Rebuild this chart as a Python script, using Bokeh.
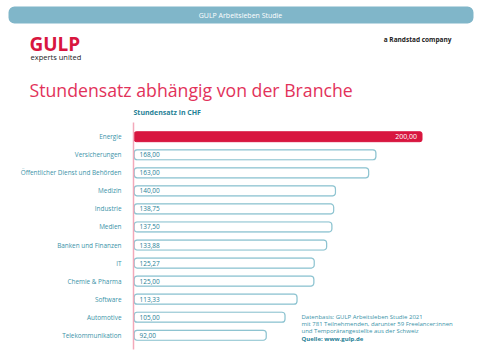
from bokeh.plotting import figure
from bokeh.layouts import column
from bokeh.models import Range1d, FactorRange, Label, BoxAnnotation, ColumnDataSource
from bokeh.core.properties import value
from bokeh.embed import file_html
from bokeh.resources import INLINE

categories = ["Energie", "Versicherungen", "Öffentlicher Dienst und Behörden", "Medizin",
              "Industrie", "Medien", "Banken und Finanzen", "IT", "Chemie & Pharma",
              "Software", "Automotive", "Telekommunikation"]
rates = [200.00, 168.00, 163.00, 140.00, 138.75, 137.50, 133.88, 125.27, 125.00, 113.33, 105.00, 92.00]

header_text = "GULP Arbeitsleben Studie"
title_text = "Stundensatz abhängig von der Branche"
axis_title = "Stundensatz in CHF"
footnote_lines = ["Datenbasis: GULP Arbeitsleben Studie 2021",
                  "mit 781 Teilnehmenden, darunter 59 Freelancer:innen",
                  "und Temporärangestellte aus der Schweiz"]
source_line = "Quelle: www.gulp.de"

FONT = "Open Sans"
RED = "#d8163f"
TEAL = "#3a93a8"
TEAL_DARK = "#1f8196"
OUTLINE = "#8ec4d1"

TOP_H = 118

# ---------- header figure ----------
top = figure(width=480, height=TOP_H, output_backend="svg", toolbar_location=None,
             x_range=Range1d(0, 480), y_range=Range1d(TOP_H, 0),
             x_axis_location=None, y_axis_location=None,
             min_border=0, min_border_left=0, min_border_right=0,
             min_border_top=0, min_border_bottom=0)
top.frame_align = False
top.outline_line_color = None
top.grid.visible = False
top.background_fill_color = "white"
top.border_fill_color = "white"


def lab(fig, x, base, text, size, color, align="left", bold=False):
    # place text so that its baseline sits near `base` (canvas px)
    fig.add_layout(Label(x=x, y=base - 0.31 * size, x_units="canvas", y_units="canvas",
                         text=text, text_align=align, text_baseline="middle", text_font=FONT,
                         text_font_style="bold" if bold else "normal",
                         text_font_size=f"{size}px", text_color=color))


top.add_layout(BoxAnnotation(left=8, right=473, top=6, bottom=23, left_units="canvas",
                             right_units="canvas", top_units="canvas", bottom_units="canvas",
                             fill_color="#80b6c9", fill_alpha=1, line_color=None, border_radius=6))
top.add_layout(Label(x=240, y=15, x_units="canvas", y_units="canvas", text=header_text,
                     text_align="center", text_baseline="middle", text_font=FONT,
                     text_font_size="7px", text_color="white"))
lab(top, 29, 49.5, "GULP", 19, RED, bold=True)
lab(top, 30, 59, "experts united", 7.5, "#222222")
lab(top, 451, 41.5, "a Randstad company", 6.5, "#222222", align="right", bold=True)
lab(top, 29, 95, title_text, 17.7, "#e2325a")
lab(top, 133, 114, axis_title, 7, TEAL_DARK, bold=True)

# ---------- bar figure ----------
fmt = [f"{v:.2f}".replace(".", ",") for v in rates]
top_i = rates.index(max(rates))

src_top = ColumnDataSource(dict(y=[categories[top_i]], x=[rates[top_i]], t=[fmt[top_i]]))
rest = [i for i in range(len(rates)) if i != top_i]
src_rest = ColumnDataSource(dict(y=[categories[i] for i in rest], x=[rates[i] for i in rest],
                                 z=[0] * len(rest), t=[fmt[i] for i in rest]))

p = figure(width=480, height=360 - TOP_H, output_backend="svg", toolbar_location=None,
           y_range=FactorRange(factors=categories[::-1], range_padding=0.048),
           x_range=Range1d(0, 235),
           min_border_left=133, min_border_right=8, min_border_top=4, min_border_bottom=11)
p.frame_align = False
p.outline_line_color = None
p.grid.visible = False
p.xaxis.visible = False
p.background_fill_color = "white"
p.border_fill_color = "white"

yax = p.yaxis[0]
yax.axis_line_color = "#f3a9ba"
yax.axis_line_width = 1.5
yax.major_tick_line_color = None
yax.minor_tick_line_color = None
yax.major_label_text_font = FONT
yax.major_label_text_font_size = "6.4px"
yax.major_label_text_color = TEAL
yax.major_label_standoff = 6

p.hbar(y="y", right="x", left=0, height=0.55, source=src_rest, fill_color=None,
       line_color="#cde4ea", line_width=1, border_radius=3)
p.hbar(y="y", right="x", left=0.5, height=0.55, source=src_rest, fill_color="white",
       line_color=OUTLINE, line_width=1.2, border_radius=3)
p.hbar(y="y", right="x", left=0.5, height=0.55, source=src_top, fill_color=RED,
       line_color=RED, line_width=1, border_radius=2)

p.text(x="z", y="y", text="t", source=src_rest, x_offset=6, text_baseline="middle",
       text_align="left", text_font=value(FONT), text_font_size="6.5px", text_color=TEAL_DARK)
p.text(x="x", y="y", text="t", source=src_top, x_offset=-5, text_baseline="middle",
       text_align="right", text_font=value(FONT), text_font_size="7px", text_color="white")

foot_bases = [318.3, 325.5, 332.7]
for b, line in zip(foot_bases, footnote_lines):
    lab(p, 301, b - TOP_H, line, 6.0, TEAL)
lab(p, 301, 340 - TOP_H, source_line, 6.0, TEAL_DARK, bold=True)

open("out.html", "w").write(file_html(column(top, p), INLINE))
